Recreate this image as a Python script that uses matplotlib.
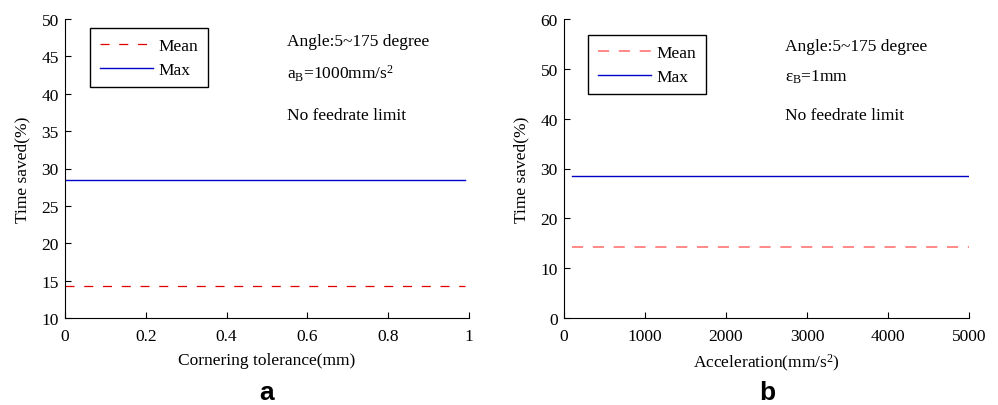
"""Time saved vs cornering tolerance (a) and acceleration (b)."""

import matplotlib

matplotlib.use("Agg")
import matplotlib.pyplot as plt

plt.rcParams["font.family"] = ["Liberation Serif", "DejaVu Serif"]
plt.rcParams["mathtext.fontset"] = "custom"
plt.rcParams["mathtext.rm"] = "Liberation Serif"
plt.rcParams["mathtext.it"] = "Liberation Serif:italic"
plt.rcParams["font.size"] = 12.5
plt.rcParams["lines.scale_dashes"] = False

# panel a: cornering tolerance sweep
tol_mm = [0.0, 0.99]
tol_mean = [14.3, 14.3]
tol_max = [28.4, 28.4]

# panel b: acceleration sweep
acc = [100, 5000]
acc_mean = [14.2, 14.2]
acc_max = [28.4, 28.4]

BLUE = "#0000c8"

fig = plt.figure(figsize=(9.98, 4.06), dpi=100)
ax_a = fig.add_axes([65 / 998, 1 - 319 / 406, 404 / 998, 299 / 406])
ax_b = fig.add_axes([564 / 998, 1 - 319 / 406, 405 / 998, 299 / 406])

legend_kw = dict(loc="upper left", handlelength=3.1, handletextpad=0.3,
                 fancybox=False, edgecolor="black", framealpha=1,
                 borderaxespad=0, borderpad=0.55, labelspacing=0.45)

ax_a.plot(tol_mm, tol_mean, color="#e00000", lw=0.9, dashes=(6.5, 7), label="Mean")
ax_a.plot(tol_mm, tol_max, color=BLUE, lw=1.0, label="Max")
ax_a.set_xlim(0, 1)
ax_a.set_ylim(10, 50)
ax_a.set_xticks([0, 0.2, 0.4, 0.6, 0.8, 1])
ax_a.set_xticklabels(["0", "0.2", "0.4", "0.6", "0.8", "1"])
ax_a.set_yticks(range(10, 51, 5))
ax_a.set_xlabel("Cornering tolerance(mm)", labelpad=5.5)
ax_a.text(0.55, 47.0, "Angle:5~175 degree", va="center")
ax_a.text(0.55, 42.8, r"$\mathrm{a_B}$=1000mm/s$^2$", va="center")
ax_a.text(0.55, 37.2, "No feedrate limit", va="center")
ax_a.legend(bbox_to_anchor=(25 / 404, 1 - 9 / 299), **legend_kw)

ax_b.plot(acc, acc_mean, color="#ff7f7f", lw=1.3, dashes=(8, 7), label="Mean")
ax_b.plot(acc, acc_max, color=BLUE, lw=1.0, label="Max")
ax_b.set_xlim(0, 5000)
ax_b.set_ylim(0, 60)
ax_b.set_xticks(range(0, 5001, 1000))
ax_b.set_yticks(range(0, 61, 10))
ax_b.set_xlabel(r"Acceleration(mm/s$^2$)", labelpad=5.5)
ax_b.text(2730, 54.6, "Angle:5~175 degree", va="center")
ax_b.text(2730, 48.6, r"$\mathrm{\varepsilon_B}$=1mm", va="center")
ax_b.text(2730, 40.7, "No feedrate limit", va="center")
ax_b.legend(bbox_to_anchor=(24 / 405, 1 - 16 / 299), **legend_kw)

for ax in (ax_a, ax_b):
    ax.set_ylabel("Time saved(%)", labelpad=8)
    ax.spines["top"].set_visible(False)
    ax.spines["right"].set_visible(False)
    ax.tick_params(direction="in", length=4, width=0.8)
    ax.tick_params(axis="x", pad=7.3)
    ax.tick_params(axis="y", pad=4.5)

fig.text(267 / 998, 1 - 393 / 406, "a", family="Liberation Sans",
         weight="bold", fontsize=19, ha="center", va="center")
fig.text(767 / 998, 1 - 393 / 406, "b", family="Liberation Sans",
         weight="bold", fontsize=19, ha="center", va="center")

fig.savefig("out.png", dpi=100)
